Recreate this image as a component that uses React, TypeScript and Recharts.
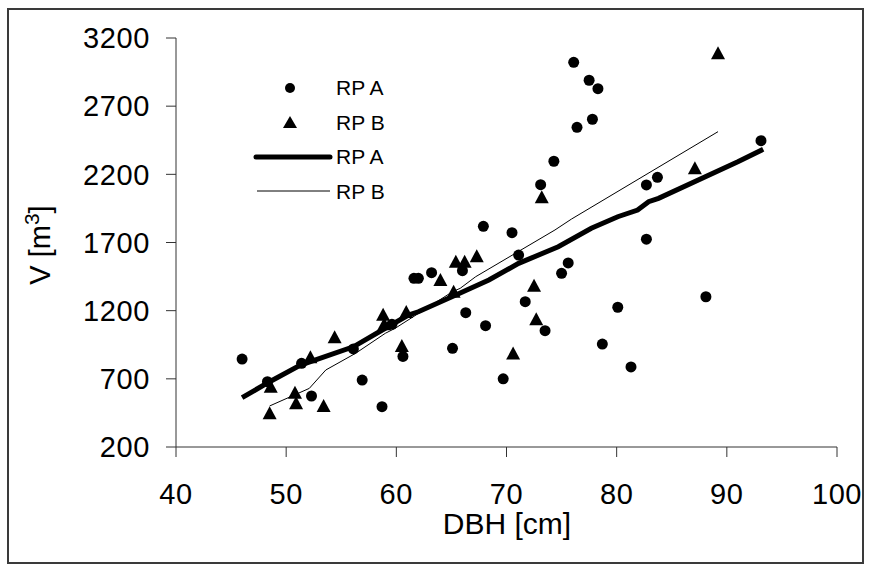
import { ComposedChart, Scatter, Line, XAxis, YAxis } from "recharts";

// measured points, RP A (circles)
const rpA = [
  { x: 46.0, y: 845 }, { x: 48.3, y: 679 }, { x: 51.4, y: 814 }, { x: 52.3, y: 574 },
  { x: 56.1, y: 919 }, { x: 56.9, y: 691 }, { x: 58.7, y: 496 }, { x: 59.6, y: 1100 },
  { x: 60.6, y: 864 }, { x: 61.6, y: 1437 }, { x: 62.0, y: 1437 }, { x: 63.2, y: 1479 },
  { x: 65.1, y: 924 }, { x: 66.0, y: 1493 }, { x: 66.3, y: 1185 }, { x: 67.9, y: 1819 },
  { x: 68.1, y: 1090 }, { x: 69.7, y: 700 }, { x: 70.5, y: 1772 }, { x: 71.1, y: 1608 },
  { x: 71.7, y: 1266 }, { x: 73.1, y: 2124 }, { x: 73.5, y: 1053 }, { x: 74.3, y: 2296 },
  { x: 75.0, y: 1474 }, { x: 75.6, y: 1550 }, { x: 76.1, y: 3022 }, { x: 76.4, y: 2545 },
  { x: 77.5, y: 2890 }, { x: 77.8, y: 2604 }, { x: 78.3, y: 2828 }, { x: 78.7, y: 955 },
  { x: 80.1, y: 1225 }, { x: 81.3, y: 787 }, { x: 82.7, y: 2122 }, { x: 82.7, y: 1724 },
  { x: 83.7, y: 2178 }, { x: 88.1, y: 1302 }, { x: 93.1, y: 2447 },
];

// RP B (triangles)
const rpB = [
  { x: 48.5, y: 447 }, { x: 48.6, y: 642 }, { x: 50.8, y: 598 }, { x: 50.9, y: 520 },
  { x: 52.2, y: 858 }, { x: 53.4, y: 501 }, { x: 54.4, y: 1005 }, { x: 58.8, y: 1170 },
  { x: 58.9, y: 1100 }, { x: 60.5, y: 940 }, { x: 60.9, y: 1190 }, { x: 64.0, y: 1425 },
  { x: 65.2, y: 1339 }, { x: 65.4, y: 1559 }, { x: 66.2, y: 1559 }, { x: 67.3, y: 1600 },
  { x: 70.6, y: 885 }, { x: 72.5, y: 1383 }, { x: 72.7, y: 1137 }, { x: 73.2, y: 2032 },
  { x: 87.1, y: 2244 }, { x: 89.2, y: 3088 },
];

// fitted lines
const fitA = [
  { x: 46.0, y: 562 }, { x: 48.5, y: 679 }, { x: 51.3, y: 801 }, { x: 56.1, y: 935 },
  { x: 59.0, y: 1071 }, { x: 61.1, y: 1168 }, { x: 62.0, y: 1192 }, { x: 65.4, y: 1315 },
  { x: 68.4, y: 1425 }, { x: 71.1, y: 1547 }, { x: 74.7, y: 1669 }, { x: 77.7, y: 1804 },
  { x: 80.1, y: 1889 }, { x: 81.9, y: 1938 }, { x: 82.9, y: 1999 }, { x: 83.8, y: 2024 },
  { x: 91.0, y: 2293 }, { x: 93.3, y: 2384 },
];

const fitB = [
  { x: 48.5, y: 501 }, { x: 52.1, y: 630 }, { x: 53.6, y: 765 }, { x: 56.3, y: 887 },
  { x: 59.0, y: 1034 }, { x: 59.9, y: 1071 }, { x: 65.1, y: 1339 }, { x: 65.8, y: 1364 },
  { x: 67.2, y: 1449 }, { x: 74.4, y: 1792 }, { x: 75.9, y: 1872 }, { x: 89.2, y: 2513 },
];

const xTicks = [40, 50, 60, 70, 80, 90, 100];
const yTicks = [200, 700, 1200, 1700, 2200, 2700, 3200];
const legendLabels = ["RP A", "RP B", "RP A", "RP B"];

const FONT = "'Liberation Sans', Arial, sans-serif";
const tickStyle = { fontSize: 29, fill: "#000", fontFamily: FONT, letterSpacing: 0.6 };

const Dot = ({ cx, cy }: any) => <circle cx={cx} cy={cy} r={5.5} fill="#000" />;
const Tri = ({ cx, cy }: any) => (
  <polygon points={`${cx},${cy - 7} ${cx - 7},${cy + 6} ${cx + 7},${cy + 6}`} fill="#000" />
);

const YLabel = () => (
  <text
    transform="translate(50,245) rotate(-90)"
    textAnchor="middle"
    style={{ fontSize: 29, fontFamily: FONT, fill: "#000" }}
  >
    V [m<tspan dy={-11} fontSize={21}>3</tspan>
    <tspan dy={11}>]</tspan>
  </text>
);

const XLabel = () => (
  <text x={507} y={534} textAnchor="middle" style={{ fontSize: 30, fontFamily: FONT, fill: "#000" }}>
    DBH [cm]
  </text>
);

export default function App() {
  return (
    <div style={{ position: "absolute", left: 0, top: 0, width: 869, height: 568, background: "#fff" }}>
      <div
        style={{
          position: "absolute",
          left: 7,
          top: 8,
          width: 853,
          height: 552,
          border: "2px solid #3a3a3a",
        }}
      />
      <ComposedChart
        width={869}
        height={568}
        margin={{ top: 38, right: 32, bottom: 61, left: 0 }}
        style={{ position: "absolute", left: 0, top: 0 }}
      >
        <XAxis
          type="number"
          dataKey="x"
          domain={[40, 100]}
          ticks={xTicks}
          height={60}
          tickSize={10}
          tickMargin={26}
          stroke="#333"
          tick={tickStyle}
          allowDataOverflow
          label={<XLabel />}
        />
        <YAxis
          type="number"
          dataKey="y"
          domain={[200, 3200]}
          ticks={yTicks}
          width={176}
          tickSize={10}
          tickMargin={16}
          stroke="#333"
          tick={tickStyle}
          allowDataOverflow
          label={<YLabel />}
        />
        <Line data={fitA} dataKey="y" type="linear" stroke="#000" strokeWidth={5} dot={false} isAnimationActive={false} />
        <Line data={fitB} dataKey="y" type="linear" stroke="#000" strokeWidth={1} dot={false} isAnimationActive={false} />
        <Scatter data={rpA} dataKey="y" shape={<Dot />} isAnimationActive={false} />
        <Scatter data={rpB} dataKey="y" shape={<Tri />} isAnimationActive={false} />
      </ComposedChart>
      <svg width={220} height={160} style={{ position: "absolute", left: 250, top: 70 }}>
        <circle cx={40} cy={18} r={5} fill="#000" />
        <polygon points="40,46 33,58 47,58" fill="#000" />
        <line x1={6} y1={87} x2={80} y2={87} stroke="#000" strokeWidth={5} strokeLinecap="round" />
        <line x1={7} y1={121} x2={80} y2={121} stroke="#000" strokeWidth={1} />
        {legendLabels.map((t, i) => (
          <text
            key={i}
            x={86}
            y={18 + i * 34.5}
            dy="0.35em"
            style={{ fontSize: 21, fontFamily: FONT, fill: "#000" }}
          >
            {t}
          </text>
        ))}
      </svg>
    </div>
  );
}
